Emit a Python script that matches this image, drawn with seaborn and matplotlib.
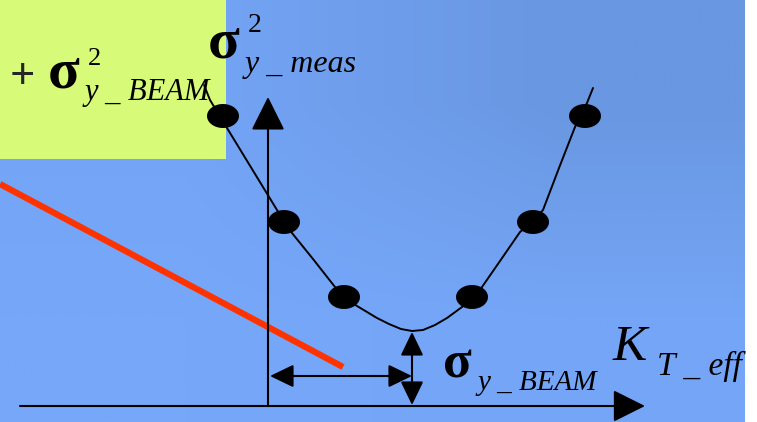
import numpy as np
import matplotlib
matplotlib.use("Agg")
import matplotlib.pyplot as plt
import seaborn as sns
from matplotlib.path import Path
from matplotlib.patches import Rectangle

# --- Datos (unidades de la figura, origen en el cruce de ejes) ---
k_meas = [-45, 16, 76, 204, 265, 317]
sigma2_meas = [290, 184, 109, 109, 184, 290]

k_fit = [-64, -58, -41, -16, 9, 16, 24, 45, 67, 76, 89, 109, 121, 133, 144,
         155, 167, 179, 194, 204, 214, 232, 252, 265, 275, 291, 307, 319, 325]
sigma2_fit = [321, 306, 278, 237, 196, 184, 173, 147, 119, 109, 100, 88, 82, 77, 75,
              76, 81, 88, 99, 108, 119, 145, 174, 185, 196, 238, 279, 303, 318]

red_k = [-268, 75]
red_s = [222, 39]

k_min = 144
sigma_min = 75

sns.set_style("white")

fig = plt.figure(figsize=(7.57, 4.22), dpi=100)
fig.patch.set_facecolor("white")
ax = fig.add_axes([0, 0, 745 / 757, 1])
ax.set_xlim(-268, 477)
ax.set_ylim(-16, 406)
ax.axis("off")

# --- Fondo degradado ---
bg = np.array([[[0x74, 0xA4, 0xF6], [0x69, 0x97, 0xE1]],
               [[0x77, 0xA7, 0xF9], [0x75, 0xA5, 0xF6]]]) / 255
ax.imshow(bg, extent=[0, 1, 0, 1], transform=ax.transAxes,
          interpolation="bilinear", aspect="auto", zorder=0)

# --- Recuadro verde ---
ax.add_patch(Rectangle((-268, 247), 226, 170, facecolor="#D7FA78",
                       edgecolor="none", zorder=1))

# --- Linea roja ---
sns.lineplot(x=red_k, y=red_s, color="#FF3300", linewidth=4.5,
             solid_capstyle="butt", ax=ax, zorder=2)

# --- Curva y puntos ---
sns.lineplot(x=k_fit, y=sigma2_fit, sort=False, estimator=None,
             color="black", linewidth=1.4, ax=ax, zorder=3)

theta = np.linspace(0, 2 * np.pi, 80)
ellipse = Path(np.column_stack([np.cos(theta), 0.75 * np.sin(theta)]), closed=True)
sns.scatterplot(x=k_meas, y=sigma2_meas, marker=ellipse, s=530,
                color="black", edgecolor="none", ax=ax, zorder=4)

# --- Ejes con flechas ---
arrow_kw = dict(mutation_scale=1, shrinkA=0, shrinkB=0, color="black", lw=1.5)
ax.annotate("", xy=(0, 309), xytext=(0, 0),
            arrowprops=dict(arrowstyle="-|>,head_length=21,head_width=10.5", **arrow_kw), zorder=3)
ax.annotate("", xy=(377, 0), xytext=(-248, 0),
            arrowprops=dict(arrowstyle="-|>,head_length=20,head_width=10", **arrow_kw), zorder=3)

# --- Flechas dobles ---
ax.annotate("", xy=(k_min, 30), xytext=(2, 30),
            arrowprops=dict(arrowstyle="<|-|>,head_length=14.5,head_width=7", **arrow_kw), zorder=3)
ax.annotate("", xy=(k_min, sigma_min - 1), xytext=(k_min, 1),
            arrowprops=dict(arrowstyle="<|-|>,head_length=14.5,head_width=7", **arrow_kw), zorder=3)

# --- Textos ---
serif = ["Liberation Serif", "Times New Roman", "DejaVu Serif"]
tk = dict(family=serif, color="black", va="baseline", ha="left", zorder=5)

ax.text(-60, 348, "σ", fontsize=42, fontweight="bold", **tk)
ax.text(-20, 374, "2", fontsize=20, **tk)
ax.text(-23, 334, "y _ meas", fontsize=23, style="italic", **tk)

ax.text(-246, 329, "+", fontsize=32, fontweight="bold", family=serif,
        ha="center", va="center", zorder=5)
ax.text(-220, 318, "σ", fontsize=42, fontweight="bold", **tk)
ax.text(-180, 341, "2", fontsize=19, **tk)
ax.text(-183, 306, "y _ BEAM", fontsize=22, style="italic", **tk)

ax.text(175, 28, "σ", fontsize=38, fontweight="bold", **tk)
ax.text(209, 16, "y _ BEAM", fontsize=21, style="italic", **tk)

ax.text(345, 46, "K", fontsize=37, style="italic", **tk)
ax.text(389, 31, "T _ eff", fontsize=24, style="italic", **tk)

plt.savefig("out.png", dpi=100)
